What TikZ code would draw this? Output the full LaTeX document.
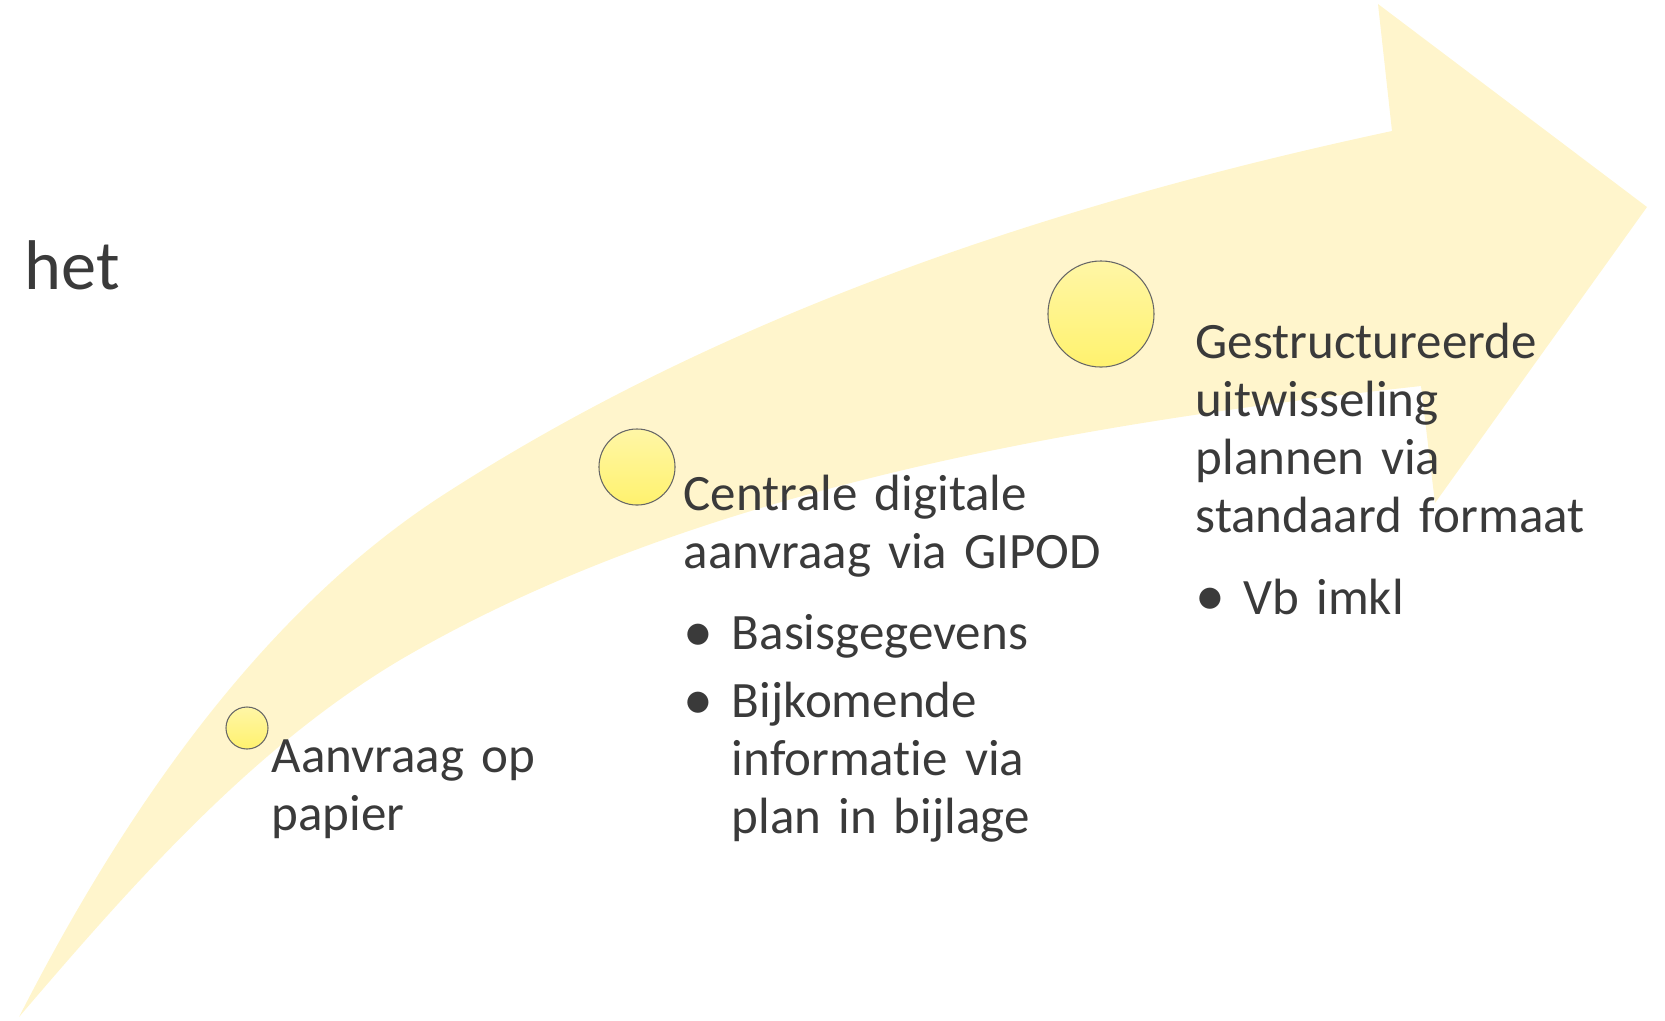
\documentclass[tikz,border=0pt]{standalone}
\usepackage{fontspec}
\setmainfont{Carlito}[Ligatures=NoCommon]
\definecolor{arrowfill}{HTML}{FFF5CC}
\definecolor{dottop}{HTML}{FFF6A6}
\definecolor{dotbottom}{HTML}{FFF26E}
\definecolor{txt}{HTML}{3A3A3A}
\newcommand{\bulletline}[1]{\par\noindent\makebox[13.7pt][l]{\raisebox{-0.4pt}{\fontsize{17}{17}\selectfont\textbullet}}\parbox[t]{4cm}{\raggedright #1}}
\tikzset{
  dot/.style={circle,draw=black!60,line width=0.3pt,top color=dottop,bottom color=dotbottom,inner sep=0pt},
  stage/.style={anchor=base west,inner sep=0pt,text=txt,align=left,font=\fontsize{14.5}{16.5}\selectfont}
}
\begin{document}
\begin{tikzpicture}[x=0.01cm,y=-0.01cm]
        \useasboundingbox (0,0) rectangle (1665,1020);
        \fill[arrowfill] (19,1017)..controls(119,821)and(256,617)..(440,497)..controls(725,312)and(1060,202)..(1392,131)
        --(1378,4)--(1647,207)--(1435,503)--(1421,386)
        ..controls(1073,424)and(690,490)..(400,660)..controls(254,747)and(136,880)..(19,1017);
        \node[anchor=base west,inner sep=0pt,text=txt,font=\fontsize{20}{24}\selectfont] (het) at (24,289) {het};
        \node[dot,minimum size=0.42cm] (dotA) at (247,728) {};
        \node[dot,minimum size=0.76cm] (dotB) at (637,467) {};
        \node[dot,minimum size=1.06cm] (dotC) at (1101,314) {};
        \node[stage,text width=4cm] (papier) at (271,772) {Aanvraag op\\papier};
        \node[stage,text width=4.4cm] (gipod) at (683,510) {Centrale digitale\\aanvraag via GIPOD\par
            \vspace{6.8pt}\bulletline{Basisgegevens}\par
            \vspace{2.8pt}\bulletline{Bijkomende\\informatie via\\plan in bijlage}};
        \node[stage,text width=4.6cm] (formaat) at (1195,358) {Gestructureerde\\uitwisseling\\plannen via\\standaard formaat\par
            \vspace{6.8pt}\bulletline{Vb imkl}};
    \end{tikzpicture}
\end{document}
